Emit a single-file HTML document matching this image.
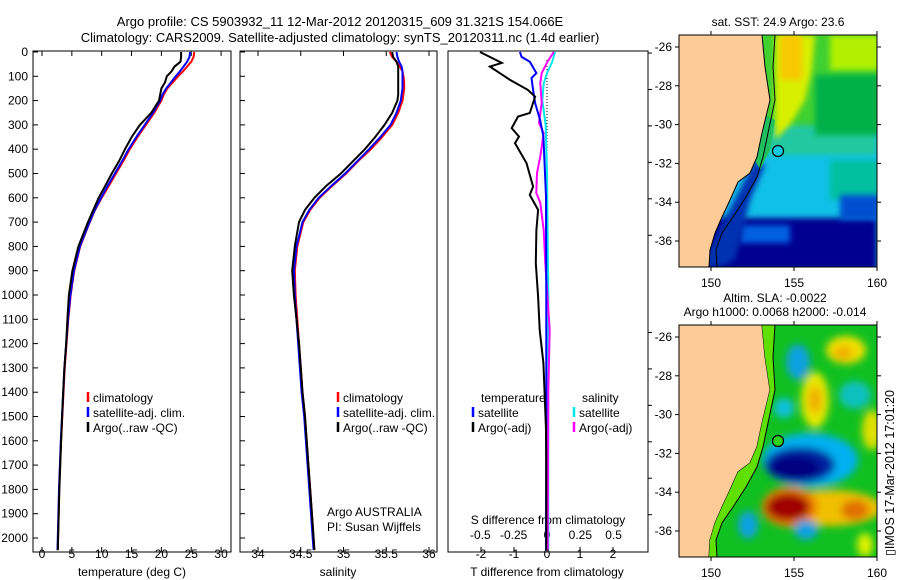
<!DOCTYPE html>
<html><head><meta charset="utf-8">
<style>
body{margin:0;background:#fff;}
svg{display:block;font-family:"Liberation Sans",sans-serif;}
text{fill:#000;}
</style></head>
<body>
<svg id="fig" width="900" height="580" viewBox="0 0 900 580" xmlns="http://www.w3.org/2000/svg">
<defs>
<clipPath id="c1"><rect x="33" y="51" width="198" height="501"/></clipPath>
<clipPath id="c2"><rect x="240" y="51" width="197" height="501"/></clipPath>
<clipPath id="c3"><rect x="448" y="51" width="200" height="501"/></clipPath>
<clipPath id="m1"><rect x="679" y="35" width="198" height="232"/></clipPath>
<clipPath id="m2"><rect x="679" y="325" width="198" height="232"/></clipPath>
<filter id="bl" x="-50%" y="-50%" width="200%" height="200%"><feGaussianBlur stdDeviation="4"/></filter>
<filter id="bl2" x="-50%" y="-50%" width="200%" height="200%"><feGaussianBlur stdDeviation="3"/></filter>
</defs>
<text x="340" y="26" font-size="13" text-anchor="middle">Argo profile: CS 5903932_11 12-Mar-2012 20120315_609 31.321S 154.066E</text>
<text x="340" y="42" font-size="13" text-anchor="middle">Climatology: CARS2009. Satellite-adjusted climatology: synTS_20120311.nc (1.4d earlier)</text>
<g id="g1"></g>
<g id="g2"></g>
<g id="g3"></g>

<!-- SST map -->
<g>
<text x="778" y="26" font-size="12" text-anchor="middle">sat. SST: 24.9 Argo: 23.6</text>
<g clip-path="url(#m1)">
<rect x="679" y="35" width="198" height="232" fill="#10c0e8"/>
<rect x="679" y="35" width="198" height="95" fill="#40d030"/>
<rect x="679" y="125" width="198" height="30" fill="#20c8a0" filter="url(#bl2)"/>
<rect x="830" y="35" width="50" height="35" fill="#b0f000" filter="url(#bl2)"/>
<rect x="815" y="75" width="65" height="60" fill="#00b048" filter="url(#bl2)"/>
<path d="M775 35 L815 35 L812 70 L805 100 L790 125 L775 140 Z" fill="#d8f000" filter="url(#bl2)"/>
<rect x="780" y="35" width="22" height="45" fill="#f8c800" filter="url(#bl2)"/>
<rect x="830" y="160" width="50" height="40" fill="#00c0a0" filter="url(#bl2)"/>
<rect x="679" y="218" width="198" height="52" fill="#000090" filter="url(#bl2)"/>
<rect x="840" y="195" width="40" height="25" fill="#0050d0" filter="url(#bl2)"/>
<rect x="740" y="225" width="50" height="18" fill="#0060e0" filter="url(#bl2)"/>
<path d="M755 160 L765 165 L750 200 L735 260 L720 267 L700 267 Z" fill="#0030b0" filter="url(#bl2)"/>
<path d="M765 115 L775 120 L770 150 L760 170 L755 160 Z" fill="#20c060"/>
<path d="M679 35 L762 35 L765 67 L770 100 L762 133 L757 157 L750 173 L738 182 L730 200 L722 217 L715 233 L710 250 L709 267 L679 267 Z" fill="#fccb98" stroke="#000" stroke-width="1"/>
<path d="M775 35 L773 67 L775 100 L768 133 L763 157 L757 177 L746 197 L733 217 L722 233 L716 250 L717 267" fill="none" stroke="#000" stroke-width="1"/>
<circle cx="778" cy="151" r="5.5" fill="#10c8e0" stroke="#000" stroke-width="1.2"/>
</g>
<rect x="679" y="35" width="198" height="232" fill="none" stroke="#000"/>
</g>

<!-- SLA map -->
<g>
<text x="775" y="302" font-size="12" text-anchor="middle">Altim. SLA: -0.0022</text>
<text x="775" y="316" font-size="12" text-anchor="middle">Argo h1000: 0.0068 h2000: -0.014</text>
<g clip-path="url(#m2)">
<rect x="679" y="325" width="198" height="232" fill="#10c020"/>
<g filter="url(#bl)">
<ellipse cx="798" cy="362" rx="12" ry="18" fill="#10a0e0"/>
<ellipse cx="846" cy="350" rx="20" ry="14" fill="#f0e000"/>
<ellipse cx="843" cy="353" rx="10" ry="7" fill="#f0b000"/>
<ellipse cx="815" cy="400" rx="14" ry="28" fill="#e8e800"/>
<ellipse cx="815" cy="400" rx="7" ry="14" fill="#f0b000"/>
<ellipse cx="855" cy="395" rx="16" ry="14" fill="#10c0c0"/>
<ellipse cx="784" cy="408" rx="10" ry="10" fill="#10c0e0"/>
<ellipse cx="872" cy="430" rx="10" ry="20" fill="#e0e000"/>
<ellipse cx="810" cy="460" rx="48" ry="27" fill="#00b0f0"/>
<ellipse cx="800" cy="465" rx="35" ry="18" fill="#0020a0"/>
<ellipse cx="795" cy="468" rx="25" ry="12" fill="#000080"/>
<ellipse cx="830" cy="508" rx="52" ry="18" fill="#f0c000"/>
<ellipse cx="790" cy="507" rx="28" ry="20" fill="#f08000"/>
<ellipse cx="788" cy="507" rx="22" ry="14" fill="#a00000"/>
<ellipse cx="855" cy="510" rx="14" ry="10" fill="#e07000"/>
<ellipse cx="748" cy="525" rx="10" ry="14" fill="#10a0e0"/>
<ellipse cx="806" cy="530" rx="12" ry="10" fill="#10a0e0"/>
<ellipse cx="865" cy="545" rx="8" ry="12" fill="#e0f000"/>
</g>
<path d="M679 325 L762 325 L765 357 L770 390 L762 423 L757 447 L750 463 L738 472 L730 490 L722 507 L715 523 L710 540 L709 557 L679 557 Z" fill="#fccb98" stroke="#000" stroke-width="1"/>
<path d="M762 325 L775 325 L773 357 L775 390 L768 423 L763 447 L757 467 L746 487 L733 507 L722 523 L716 540 L717 557 L709 557 L710 540 L715 523 L722 507 L730 490 L738 472 L750 463 L757 447 L762 423 L770 390 L765 357 Z" fill="#60e000"/>
<path d="M775 325 L773 357 L775 390 L768 423 L763 447 L757 467 L746 487 L733 507 L722 523 L716 540 L717 557" fill="none" stroke="#000" stroke-width="1"/>
<circle cx="778" cy="441" r="5.5" fill="#30d020" stroke="#000" stroke-width="1.2"/>
</g>
<rect x="679" y="325" width="198" height="232" fill="none" stroke="#000"/>
</g>
<text transform="translate(894,556) rotate(-90)" font-size="12.5">▯IMOS 17-Mar-2012 17:01:20</text>
<g id="mapaxes"></g>
</svg>
<script>
const NS="http://www.w3.org/2000/svg";
const depth=[0,20,40,60,80,100,125,150,175,200,250,300,350,400,450,500,550,600,650,700,800,900,1000,1100,1200,1300,1400,1500,1600,1700,1800,1900,2000,2050];
const tClim=[25.5,25.4,25.0,24.3,23.6,22.8,21.9,21.0,20.4,20.0,18.8,17.4,16.0,14.7,13.6,12.4,11.2,10.0,8.9,8.0,6.4,5.4,4.8,4.4,4.1,3.8,3.6,3.4,3.2,3.05,2.9,2.8,2.7,2.65];
const tSat=[24.8,24.7,24.3,23.7,23.1,22.4,21.6,20.8,20.2,19.8,18.6,17.2,15.8,14.5,13.4,12.2,11.0,9.9,8.85,7.95,6.35,5.35,4.75,4.35,4.05,3.75,3.55,3.35,3.15,3.0,2.85,2.75,2.65,2.6];
const tArgo=[23.3,23.3,23.2,22.2,21.7,20.9,20.6,20.0,19.8,19.6,18.3,16.4,15.0,13.9,12.9,11.7,10.6,9.5,8.6,7.7,6.1,5.1,4.5,4.25,4.05,3.75,3.55,3.37,3.2,3.05,2.9,2.8,2.7,2.65];
const sClim=[35.54,35.57,35.62,35.66,35.69,35.70,35.71,35.71,35.70,35.69,35.64,35.57,35.45,35.32,35.17,35.03,34.87,34.72,34.61,34.53,34.46,34.43,34.44,34.46,34.48,34.50,34.52,34.55,34.57,34.59,34.61,34.63,34.65,34.66];
const sSat=[35.62,35.63,35.65,35.68,35.69,35.69,35.69,35.69,35.68,35.67,35.62,35.55,35.43,35.30,35.16,35.02,34.86,34.71,34.60,34.52,34.45,34.42,34.43,34.45,34.47,34.49,34.51,34.54,34.56,34.58,34.60,34.62,34.64,34.65];
const sArgo=[35.57,35.58,35.62,35.64,35.64,35.64,35.64,35.64,35.64,35.63,35.57,35.48,35.37,35.25,35.11,34.97,34.80,34.66,34.55,34.48,34.43,34.40,34.42,34.45,34.48,34.50,34.52,34.55,34.57,34.59,34.61,34.63,34.65,34.66];
const dTArgoDepth=[0,45,60,115,156,184,251,266,313,348,375,457,554,588,650,733,869,1007,1144,1280,1445,1555,1700,1900,2050];
const dTArgo=[-2.03,-1.37,-1.73,-1.12,-0.58,-0.36,-0.52,-0.88,-1.07,-0.85,-0.97,-0.62,-0.42,-0.52,-0.27,-0.32,-0.34,-0.27,-0.22,-0.11,-0.06,-0.03,-0.02,-0.02,-0.02];
const dTSatDepth=[0,20,40,87,107,156,210,280,348,595,1000,1500,2050];
const dTSat=[-0.82,-0.77,-0.52,-0.32,-0.47,-0.42,-0.36,-0.21,-0.11,-0.03,-0.02,-0.02,-0.03];
const dSArgoDepth=[0,40,87,128,210,292,334,430,498,580,621,733,869,1144,1400,2050];
const dSArgo=[0.05,0.004,-0.04,-0.05,-0.04,-0.06,-0.025,-0.05,-0.075,-0.08,-0.05,-0.025,-0.013,0.02,0.01,0.005];
const dSSatDepth=[0,40,87,130,200,300,500,1000,1500,2050];
const dSSat=[0.06,0.04,0,-0.025,-0.035,-0.01,0,0.01,0.01,0.01];
const depthTicks=[0,100,200,300,400,500,600,700,800,900,1000,1100,1200,1300,1400,1500,1600,1700,1800,1900,2000];
const tTicks=[0,5,10,15,20,25,30];
const sTicks=[34,34.5,35,35.5,36];
const dTTicks=[-2,-1,0,1,2];
const dSTicks=[-0.5,-0.25,0,0.25,0.5];
const dSTickLabels=["-0.5","-0.25","0","0.25","0.5"];

const yD=d=>52+d*0.243;
const xT=t=>42+t*5.97;
const xS=s=>258+(s-34)*85.5;
const xDT=v=>547+v*33;
const xDS=v=>547+v*133.3;

function el(tag,attrs,parent,txt){const e=document.createElementNS(NS,tag);for(const k in attrs)e.setAttribute(k,attrs[k]);if(txt!==undefined)e.textContent=txt;parent.appendChild(e);return e;}
function line(g,xs,ds,xf,color,name,clip,dash){
  const pts=xs.map((v,i)=>xf(v).toFixed(1)+","+yD(ds[i]).toFixed(1)).join(" ");
  const p=el("polyline",{points:pts,fill:"none",stroke:color,"stroke-width":2,"clip-path":"url(#"+clip+")"},g);
  if(dash)p.setAttribute("stroke-dasharray",dash);
  
  
}
function box(g,x,w){el("rect",{x:x,y:51,width:w,height:501,fill:"none",stroke:"#000"},g);}
function legend(g,x,y,color,label,name){
  el("line",{x1:x,y1:y-10,x2:x,y2:y,stroke:color,"stroke-width":2.5},g);
  const t=el("text",{x:x+5,y:y,"font-size":12},g,label);
  
  
}
const g1=document.getElementById("g1");
box(g1,33,198);
depthTicks.forEach(d=>{
  el("line",{x1:33,y1:yD(d),x2:38,y2:yD(d),stroke:"#000"},g1);
  const t=el("text",{x:28,y:yD(d)+4,"font-size":12,"text-anchor":"end"},g1,d);
  
  
});
tTicks.forEach(v=>{
  el("line",{x1:xT(v),y1:51,x2:xT(v),y2:56,stroke:"#000"},g1);
  el("line",{x1:xT(v),y1:552,x2:xT(v),y2:547,stroke:"#000"},g1);
  const t=el("text",{x:xT(v),y:558,"font-size":12,"text-anchor":"middle"},g1,v);
  
  
});
el("text",{x:132,y:576,"font-size":12,"text-anchor":"middle",},g1,"temperature (deg C)");
line(g1,tClim,depth,xT,"#ff0000","temp-climatology-line","c1");
line(g1,tSat,depth,xT,"#0000ff","temp-satellite-line","c1");
line(g1,tArgo,depth,xT,"#000000","temp-argo-line","c1");
legend(g1,88,402,"#ff0000","climatology","legend-climatology");
legend(g1,88,417,"#0000ff","satellite-adj. clim.","legend-satellite");
legend(g1,88,432,"#000000","Argo(..raw -QC)","legend-argo");
const g2=document.getElementById("g2");
box(g2,240,197);
depthTicks.forEach(d=>{el("line",{x1:240,y1:yD(d),x2:245,y2:yD(d),stroke:"#000"},g2);});
sTicks.forEach(v=>{
  el("line",{x1:xS(v),y1:51,x2:xS(v),y2:56,stroke:"#000"},g2);
  el("line",{x1:xS(v),y1:552,x2:xS(v),y2:547,stroke:"#000"},g2);
  const t=el("text",{x:xS(v),y:558,"font-size":12,"text-anchor":"middle"},g2,v);
  
  
});
el("text",{x:338,y:576,"font-size":12,"text-anchor":"middle",},g2,"salinity");
line(g2,sClim,depth,xS,"#ff0000","sal-climatology-line","c2");
line(g2,sSat,depth,xS,"#0000ff","sal-satellite-line","c2");
line(g2,sArgo,depth,xS,"#000000","sal-argo-line","c2");
legend(g2,338,402,"#ff0000","climatology","legend-climatology-2");
legend(g2,338,417,"#0000ff","satellite-adj. clim.","legend-satellite-2");
legend(g2,338,432,"#000000","Argo(..raw -QC)","legend-argo-2");
el("text",{x:327,y:516,"font-size":12,},g2,"Argo AUSTRALIA");
el("text",{x:327,y:531,"font-size":12,},g2,"PI: Susan Wijffels");
const g3=document.getElementById("g3");
box(g3,448,200);
[0,150,300,450,600,750,1150,1300,1450,1600,1750,1900].forEach(d=>{el("line",{x1:648,y1:yD(d)+1,x2:652,y2:yD(d)+1,stroke:"#000"},g3);});
dTTicks.forEach(v=>{
  el("line",{x1:xDT(v),y1:552,x2:xDT(v),y2:547,stroke:"#000"},g3);
  const t=el("text",{x:xDT(v),y:558,"font-size":12,"text-anchor":"middle"},g3,v);
  
  
});
dSTicks.forEach((v,i)=>{
  const t=el("text",{x:xDS(v),y:539,"font-size":12,"text-anchor":"middle"},g3,dSTickLabels[i]);
  
  
});
el("text",{x:548,y:524,"font-size":12,"text-anchor":"middle",},g3,"S difference from climatology");
el("text",{x:547,y:576,"font-size":12,"text-anchor":"middle",},g3,"T difference from climatology");
el("line",{x1:xDT(0),y1:60,x2:xDT(0),y2:yD(450),stroke:"#000","stroke-dasharray":"1,2"},g3);
line(g3,dSSat,dSSatDepth,xDS,"#00e8e8","s-diff-satellite-line","c3");
line(g3,dSArgo,dSArgoDepth,xDS,"#ff00ff","s-diff-argo-line","c3");
line(g3,dTSat,dTSatDepth,xDT,"#0000ff","t-diff-satellite-line","c3");
line(g3,dTArgo,dTArgoDepth,xDT,"#000000","t-diff-argo-line","c3");
el("text",{x:481,y:402,"font-size":12,},g3,"temperature");
legend(g3,473,417,"#0000ff","satellite","legend-t-satellite");
legend(g3,473,432,"#000000","Argo(-adj)","legend-t-argo");
el("text",{x:582,y:402,"font-size":12,},g3,"salinity");
legend(g3,574,417,"#00e8e8","satellite","legend-s-satellite");
legend(g3,574,432,"#ff00ff","Argo(-adj)","legend-s-argo");
const ma=document.getElementById("mapaxes");
const lonTicks=[150,155,160];
const latTicks=[-26,-28,-30,-32,-34,-36];
const xLon=l=>711+(l-150)*16.6;
[[35,267,47],[325,557,337]].forEach(([top,bot,y26])=>{
  lonTicks.forEach(l=>{
    el("line",{x1:xLon(l),y1:top,x2:xLon(l),y2:top-4,stroke:"#000"},ma);
    el("line",{x1:xLon(l),y1:bot,x2:xLon(l),y2:bot+4,stroke:"#000"},ma);
    const t=el("text",{x:xLon(l),y:bot+20,"font-size":12,"text-anchor":"middle"},ma,l);
    
    
  });
  latTicks.forEach(la=>{
    const y=y26+(-26-la)*19.4;
    el("line",{x1:675,y1:y,x2:679,y2:y,stroke:"#000"},ma);
    el("line",{x1:877,y1:y,x2:881,y2:y,stroke:"#000"},ma);
    const t=el("text",{x:672,y:y+4,"font-size":12,"text-anchor":"end"},ma,la);
    
    
  });
});
</script>
</body></html>
